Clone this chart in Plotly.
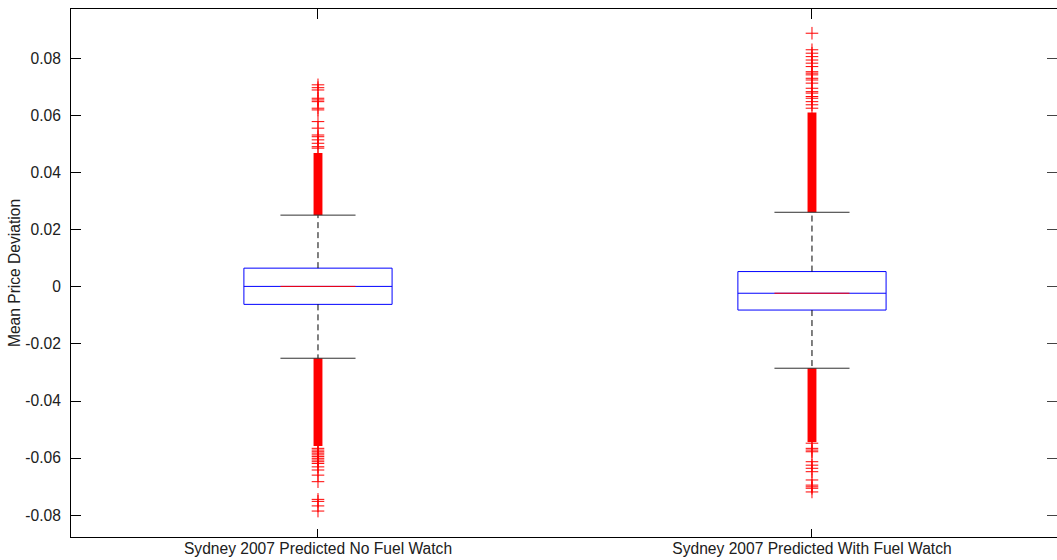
import plotly.graph_objects as go

# Box statistics per group (quartiles, median, whisker ends)
groups = ["Sydney 2007 Predicted No Fuel Watch", "Sydney 2007 Predicted With Fuel Watch"]
positions = [1, 2]
q1 = [-0.0061, -0.0081]
medians = [0.0002, -0.0022]
q3 = [0.0066, 0.0054]
lower_whisker = [-0.0250, -0.0285]
upper_whisker = [0.0252, 0.0262]

# Outliers packed so tightly that they merge into a solid run next to each whisker
dense_upper_end = [0.0470, 0.0612]
dense_lower_end = [-0.0558, -0.0544]

# Individually visible outliers beyond the packed runs
outliers_high = [
    [0.0709, 0.0699, 0.0691, 0.0662, 0.0656, 0.0650, 0.0627, 0.0621, 0.0580,
     0.0557, 0.0533, 0.0527, 0.0516, 0.0504, 0.0492, 0.0487],
    [0.0890, 0.0832, 0.0820, 0.0808, 0.0796, 0.0785, 0.0773, 0.0755, 0.0750,
     0.0744, 0.0732, 0.0726, 0.0715, 0.0697, 0.0685, 0.0680, 0.0668, 0.0662,
     0.0650, 0.0639, 0.0627],
]
outliers_low = [
    [-0.0566, -0.0572, -0.0578, -0.0583, -0.0589, -0.0595, -0.0601, -0.0607,
     -0.0613, -0.0619, -0.0631, -0.0642, -0.0660, -0.0683, -0.0745, -0.0752,
     -0.0768, -0.0786],
    [-0.0548, -0.0566, -0.0572, -0.0578, -0.0613, -0.0625, -0.0636, -0.0648,
     -0.0677, -0.0695, -0.0701, -0.0706, -0.0719],
]

y_tickvals = [-0.08, -0.06, -0.04, -0.02, 0, 0.02, 0.04, 0.06, 0.08]
y_ticktext = ["-0.08", "-0.06", "-0.04", "-0.02", "0", "0.02", "0.04", "0.06", "0.08"]

BOX_W = 0.30
CAP_W = 0.152
BAND_W = 0.018
FONT = "Liberation Sans, Arial, sans-serif"
FS = 15.6
TXT = "#202020"

fig = go.Figure()

for i, pos in enumerate(positions):
    # dashed whiskers from the box edges to the caps
    for a, b in ((q3[i], upper_whisker[i]), (q1[i], lower_whisker[i])):
        fig.add_trace(go.Scatter(
            x=[pos, pos], y=[a, b], mode="lines",
            line=dict(color="black", width=1, dash="6px,4px"),
            hoverinfo="skip", showlegend=False))
    # whisker caps
    for w in (upper_whisker[i], lower_whisker[i]):
        fig.add_trace(go.Scatter(
            x=[pos - CAP_W / 2, pos + CAP_W / 2], y=[w, w], mode="lines",
            line=dict(color="#303030", width=1),
            hoverinfo="skip", showlegend=False))

# blue boxes
for i, pos in enumerate(positions):
    fig.add_trace(go.Box(
        x=[pos], q1=[q1[i]], median=[medians[i]], q3=[q3[i]],
        lowerfence=[q1[i]], upperfence=[q3[i]],
        width=BOX_W, whiskerwidth=0,
        line=dict(color="#0000ff", width=1),
        fillcolor="rgba(0,0,0,0)", boxpoints=False,
        hoverinfo="skip", showlegend=False))

# red medians
for i, pos in enumerate(positions):
    fig.add_trace(go.Scatter(
        x=[pos - CAP_W / 2, pos + CAP_W / 2], y=[medians[i], medians[i]],
        mode="lines", line=dict(color="#ff0000", width=1),
        hoverinfo="skip", showlegend=False))

# packed outlier runs
fig.add_trace(go.Bar(
    x=positions, base=upper_whisker,
    y=[e - w for e, w in zip(dense_upper_end, upper_whisker)],
    width=BAND_W, marker=dict(color="#ff0000", line=dict(width=0)),
    hoverinfo="skip", showlegend=False))
fig.add_trace(go.Bar(
    x=positions, base=dense_lower_end,
    y=[w - e for e, w in zip(dense_lower_end, lower_whisker)],
    width=BAND_W, marker=dict(color="#ff0000", line=dict(width=0)),
    hoverinfo="skip", showlegend=False))

# individual outliers
for i, pos in enumerate(positions):
    vals = outliers_high[i] + outliers_low[i]
    fig.add_trace(go.Scatter(
        x=[pos] * len(vals), y=vals, mode="markers",
        marker=dict(symbol="cross-thin", size=9,
                    line=dict(color="#ff0000", width=1)),
        hoverinfo="skip", showlegend=False))

fig.update_layout(
    width=1057, height=560,
    margin=dict(l=71, r=0, t=9, b=23),
    paper_bgcolor="white", plot_bgcolor="white",
    barmode="overlay", showlegend=False,
    font=dict(family=FONT, size=FS, color=TXT),
    xaxis=dict(
        range=[0.5, 2.496], tickmode="array", tickvals=positions, ticktext=groups,
        ticks="inside", ticklen=8, tickcolor="black", tickwidth=1,
        showline=True, linecolor="black", linewidth=1,
        showgrid=False, zeroline=False, ticklabelstandoff=-3,
        tickfont=dict(family=FONT, size=FS, color=TXT)),
    xaxis2=dict(
        range=[0.5, 2.496], overlaying="x", side="top", matches="x",
        tickmode="array", tickvals=positions, showticklabels=False,
        ticks="inside", ticklen=10, tickcolor="black", tickwidth=1,
        showline=True, linecolor="black", linewidth=1,
        showgrid=False, zeroline=False),
    yaxis=dict(
        range=[-0.0877, 0.0975], tickmode="array",
        tickvals=y_tickvals, ticktext=y_ticktext,
        ticks="inside", ticklen=10, tickcolor="black", tickwidth=1,
        showline=True, linecolor="black", linewidth=1,
        showgrid=False, zeroline=False, ticklabelstandoff=6,
        tickfont=dict(family=FONT, size=FS, color=TXT),
        title=dict(text="Mean Price Deviation", standoff=0,
                   font=dict(family=FONT, size=FS, color=TXT))),
    yaxis2=dict(
        range=[-0.0877, 0.0975], overlaying="y", side="right", matches="y",
        tickmode="array", tickvals=y_tickvals, showticklabels=False,
        ticks="inside", ticklen=10, tickcolor="#444444", tickwidth=1,
        showline=False, showgrid=False, zeroline=False),
)

# anchor the mirrored axes so they are drawn
fig.add_trace(go.Scatter(x=[None], y=[None], xaxis="x2", yaxis="y2",
                         mode="markers", hoverinfo="skip", showlegend=False))

fig.write_html("out.html")
